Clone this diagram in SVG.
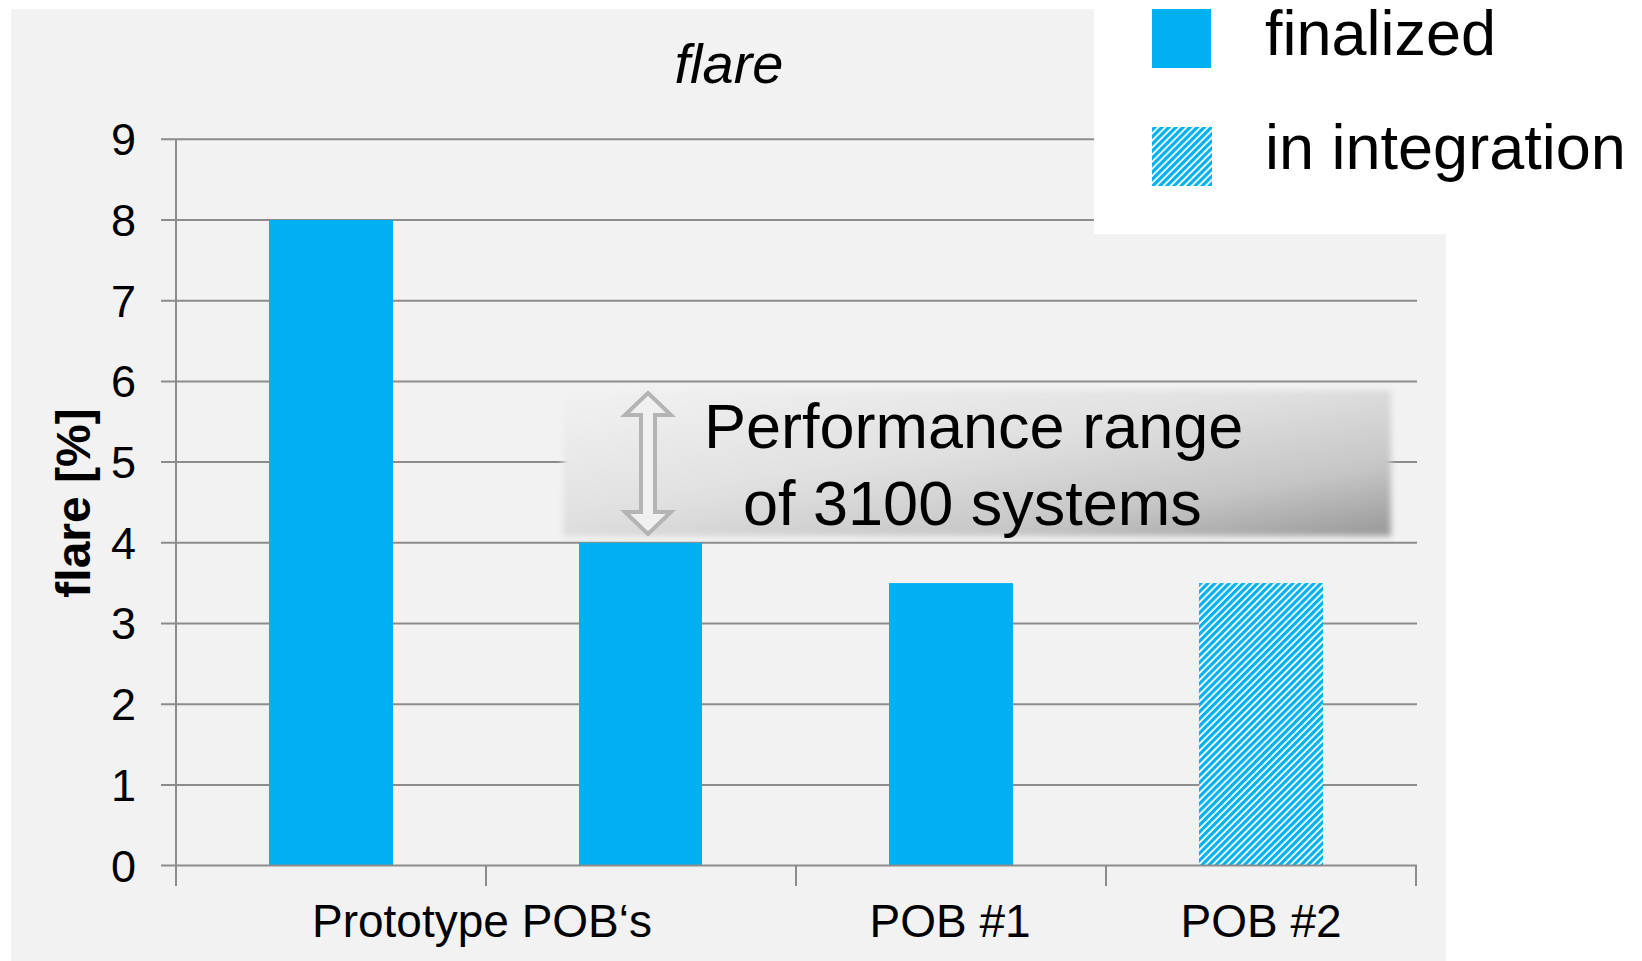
<svg xmlns="http://www.w3.org/2000/svg" width="1642" height="961" viewBox="0 0 1642 961">
<defs>
<style>
.grid{stroke:#8c8c8c;stroke-width:2;fill:none}
.tick{font-family:"Liberation Sans",Arial,sans-serif;font-size:45px;fill:#000;text-anchor:end}
.cat{font-family:"Liberation Sans",Arial,sans-serif;font-size:46px;fill:#000;text-anchor:middle}
.big{font-family:"Liberation Sans",Arial,sans-serif;font-size:63px;fill:#000}
.bar{fill:#00b0f0}
</style>
<pattern id="hatch" width="5" height="5" patternUnits="userSpaceOnUse" patternTransform="rotate(45)">
<rect width="5" height="5" fill="#ffffff"/>
<rect width="3.2" height="5" fill="#00b0f0"/>
</pattern>
<linearGradient id="boxg" x1="0" y1="0" x2="1" y2="1">
<stop offset="0" stop-color="#f2f2f2"/>
<stop offset="0.45" stop-color="#e0e0e0"/>
<stop offset="0.75" stop-color="#c6c6c6"/>
<stop offset="1" stop-color="#989898"/>
</linearGradient>
<filter id="soft" x="-5%" y="-10%" width="110%" height="120%">
<feGaussianBlur stdDeviation="3"/>
</filter>
</defs>
<rect width="1642" height="961" fill="#ffffff"/>
<rect x="11" y="9" width="1435" height="952" fill="#f2f2f2"/>

<g id="gridlines">
<line class="grid" x1="161" y1="139.3" x2="1417" y2="139.3"/>
<line class="grid" x1="161" y1="220" x2="1417" y2="220"/>
<line class="grid" x1="161" y1="300.7" x2="1417" y2="300.7"/>
<line class="grid" x1="161" y1="381.4" x2="1417" y2="381.4"/>
<line class="grid" x1="161" y1="462.1" x2="1417" y2="462.1"/>
<line class="grid" x1="161" y1="542.8" x2="1417" y2="542.8"/>
<line class="grid" x1="161" y1="623.5" x2="1417" y2="623.5"/>
<line class="grid" x1="161" y1="704.2" x2="1417" y2="704.2"/>
<line class="grid" x1="161" y1="784.9" x2="1417" y2="784.9"/>
</g>

<g id="bars">
<rect class="bar" x="269" y="220" width="124" height="645.6"/>
<rect class="bar" x="579" y="542.8" width="123" height="322.8"/>
<rect class="bar" x="889" y="583.1" width="124" height="282.5"/>
<rect x="1199" y="583.1" width="124" height="282.5" fill="url(#hatch)"/>
</g>

<g id="axes">
<line class="grid" x1="161" y1="865.6" x2="1417" y2="865.6"/>
<line class="grid" x1="176" y1="139.3" x2="176" y2="886"/>
<line class="grid" x1="486" y1="865.6" x2="486" y2="886"/>
<line class="grid" x1="796" y1="865.6" x2="796" y2="886"/>
<line class="grid" x1="1106" y1="865.6" x2="1106" y2="886"/>
<line class="grid" x1="1416" y1="865.6" x2="1416" y2="886"/>
</g>

<g id="ytick-labels">
<text class="tick" x="136" y="155">9</text>
<text class="tick" x="136" y="236">8</text>
<text class="tick" x="136" y="316.5">7</text>
<text class="tick" x="136" y="397">6</text>
<text class="tick" x="136" y="478">5</text>
<text class="tick" x="136" y="558.5">4</text>
<text class="tick" x="136" y="639">3</text>
<text class="tick" x="136" y="720">2</text>
<text class="tick" x="136" y="800.5">1</text>
<text class="tick" x="136" y="881.5">0</text>
</g>

<g id="category-labels">
<text class="cat" x="482" y="937">Prototype POB‘s</text>
<text class="cat" x="950" y="937">POB #1</text>
<text class="cat" x="1261" y="937">POB #2</text>
</g>

<text id="y-title" x="90" y="503" transform="rotate(-90 90 503)" font-family="'Liberation Sans',Arial,sans-serif" font-size="48" font-weight="bold" text-anchor="middle">flare [%]</text>
<text id="title" x="729" y="83" font-family="'Liberation Sans',Arial,sans-serif" font-size="56" font-style="italic" text-anchor="middle">flare</text>

<g id="performance-range">
<rect x="563" y="390" width="828" height="146" fill="url(#boxg)" filter="url(#soft)"/>
<path d="M648,393 L671,415 L655,415 L655,512 L671,512 L648,534 L625,512 L641,512 L641,415 L625,415 Z" fill="#f0f0f0" stroke="#b4b4b4" stroke-width="4" stroke-linejoin="miter"/>
<text class="big" x="704" y="448">Performance range</text>
<text class="big" x="743" y="525">of 3100 systems</text>
</g>

<g id="legend">
<rect x="1094" y="0" width="548" height="234" fill="#ffffff"/>
<rect x="1152" y="9" width="59" height="59" fill="#00b0f0"/>
<text class="big" x="1265" y="55">finalized</text>
<rect x="1152" y="127" width="60" height="59" fill="url(#hatch)"/>
<text class="big" x="1265" y="169">in integration</text>
</g>
</svg>
